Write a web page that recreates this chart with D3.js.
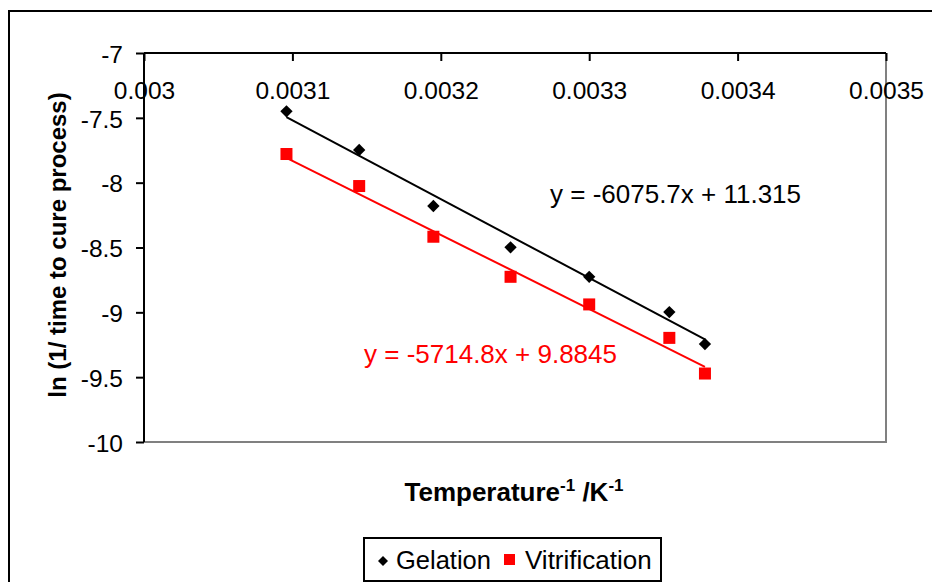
<!DOCTYPE html>
<html>
<head>
<meta charset="utf-8">
<script src="https://cdn.jsdelivr.net/npm/d3@7"></script>
<style>
  body { margin: 0; background: #fff; }
  svg text { font-family: "Liberation Sans", Arial, sans-serif; }
</style>
</head>
<body>
<div id="container"></div>
<script>
// data
let invTemp = [0.003096, 0.003145, 0.003195, 0.003247, 0.003300, 0.003354, 0.003378];
let gelation = [-7.45, -7.748, -8.18, -8.499, -8.726, -8.998, -9.245];
let vitrification = [-7.779, -8.026, -8.417, -8.726, -8.939, -9.197, -9.472];
let xTicks = [0.003, 0.0031, 0.0032, 0.0033, 0.0034, 0.0035];
let yTicks = [-7, -7.5, -8, -8.5, -9, -9.5, -10];
// trendline fits shown on the chart
let gelFit = { slope: -6075.7, icept: 11.315, label: "y = -6075.7x + 11.315" };
let vitFit = { slope: -5714.8, icept: 9.8845, label: "y = -5714.8x + 9.8845" };

let W = 932, H = 582;
let plot = { left: 144, top: 53, right: 886, bottom: 442 };

let svg = d3.select('#container')
    .append("svg")
    .attr("width", W)
    .attr("height", H);

// outer chart border (runs off the right and bottom)
svg.append("rect")
    .attr("x", 9).attr("y", 11)
    .attr("width", W).attr("height", H)
    .attr("fill", "none")
    .attr("stroke", "#000")
    .attr("stroke-width", 2);

let x = d3.scaleLinear().domain([0.003, 0.0035]).range([plot.left, plot.right]);
let y = d3.scaleLinear().domain([-10, -7]).range([plot.bottom, plot.top]);

// plot area border: right and bottom grey
svg.append("path")
    .attr("d", `M${plot.left},${plot.bottom}H${plot.right}V${plot.top}`)
    .attr("fill", "none")
    .attr("stroke", "#808080")
    .attr("stroke-width", 2);

// x axis along the top (y = -7), ticks point down
let xAxis = svg.append("g")
    .attr("transform", `translate(0,${plot.top})`)
    .call(d3.axisBottom(x).tickValues(xTicks).tickSize(8).tickPadding(21)
        .tickFormat(d => String(+d.toFixed(4))));
xAxis.select(".domain").attr("stroke-width", 2).attr("d", `M${plot.left},0H${plot.right}`);
xAxis.selectAll(".tick line").attr("stroke-width", 2);
xAxis.selectAll("text").attr("font-size", 24.5).attr("fill", "#000").attr("dy", "0.71em");

// y axis
let yAxis = svg.append("g")
    .attr("transform", `translate(${plot.left},0)`)
    .call(d3.axisLeft(y).tickValues(yTicks).tickSize(8).tickPadding(13)
        .tickFormat(d => String(d)));
yAxis.select(".domain").attr("stroke-width", 2).attr("d", `M0,${plot.bottom}V${plot.top}`);
yAxis.selectAll(".tick line").attr("stroke-width", 2);
yAxis.selectAll("text").attr("font-size", 24.5).attr("fill", "#000").attr("dy", "0.38em");

// trendlines
function addFit(fit, color) {
    let x0 = d3.min(invTemp), x1 = d3.max(invTemp);
    svg.append("line")
        .attr("x1", x(x0)).attr("y1", y(fit.slope * x0 + fit.icept))
        .attr("x2", x(x1)).attr("y2", y(fit.slope * x1 + fit.icept))
        .attr("stroke", color)
        .attr("stroke-width", 2);
}
addFit(gelFit, "#000");
addFit(vitFit, "#ff0000");

// markers
svg.selectAll("rect.vit")
    .data(vitrification)
    .enter()
    .append("rect")
    .attr("class", "vit")
    .attr("x", (d, i) => x(invTemp[i]) - 6)
    .attr("y", d => y(d) - 6)
    .attr("width", 12).attr("height", 12)
    .attr("fill", "#ff0000");

svg.selectAll("path.gel")
    .data(gelation)
    .enter()
    .append("path")
    .attr("class", "gel")
    .attr("d", d3.symbol(d3.symbolSquare, 76))
    .attr("transform", (d, i) => `translate(${x(invTemp[i])},${y(d)}) rotate(45)`)
    .attr("fill", "#000");

// equation labels
svg.append("text")
    .attr("x", 550).attr("y", 203)
    .attr("font-size", 26)
    .attr("fill", "#000")
    .text(gelFit.label);
svg.append("text")
    .attr("x", 364).attr("y", 363)
    .attr("font-size", 26)
    .attr("fill", "#ff0000")
    .text(vitFit.label);

// axis titles
let xt = svg.append("text")
    .attr("x", 514).attr("y", 501)
    .attr("text-anchor", "middle")
    .attr("font-size", 26)
    .attr("font-weight", "bold");
xt.append("tspan").text("Temperature");
xt.append("tspan").attr("dy", -10).attr("font-size", 17).text("-1");
xt.append("tspan").attr("dy", 10).text(" /K");
xt.append("tspan").attr("dy", -10).attr("font-size", 17).text("-1");

svg.append("text")
    .attr("transform", "translate(66,245) rotate(-90)")
    .attr("text-anchor", "middle")
    .attr("font-size", 24)
    .attr("font-weight", "bold")
    .text("ln (1/ time to cure process)");

// legend
let leg = svg.append("g");
leg.append("rect")
    .attr("x", 364).attr("y", 538)
    .attr("width", 297).attr("height", 43)
    .attr("fill", "#fff")
    .attr("stroke", "#000")
    .attr("stroke-width", 2);
leg.append("path")
    .attr("d", d3.symbol(d3.symbolSquare, 50))
    .attr("transform", "translate(383,561) rotate(45)")
    .attr("fill", "#000");
leg.append("text")
    .attr("x", 396).attr("y", 569)
    .attr("font-size", 25.5)
    .text("Gelation");
leg.append("rect")
    .attr("x", 504).attr("y", 554)
    .attr("width", 11).attr("height", 11)
    .attr("fill", "#ff0000");
leg.append("text")
    .attr("x", 525).attr("y", 569)
    .attr("font-size", 26)
    .text("Vitrification");
</script>
</body>
</html>
